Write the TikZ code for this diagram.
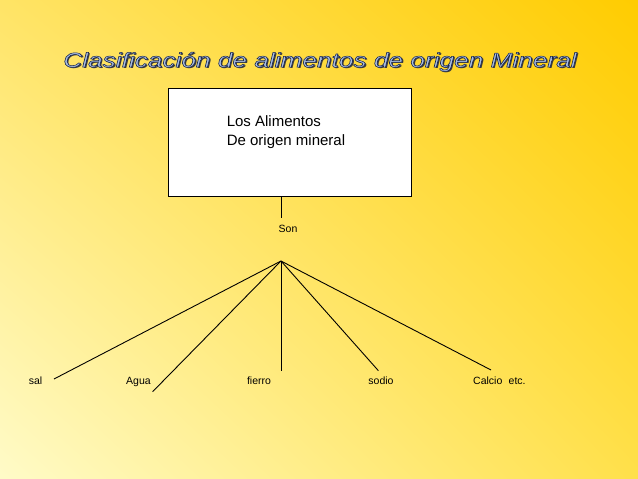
\documentclass[tikz,border=0pt]{standalone}
\usepackage{fontspec}
\setmainfont{Liberation Sans}
\usetikzlibrary{shadings}
\definecolor{bgTL}{HTML}{FFE466}
\definecolor{bgTR}{HTML}{FFCC00}
\definecolor{bgBL}{HTML}{FFFBC8}
\definecolor{bgBR}{HTML}{FFE04A}
\definecolor{titlefill}{HTML}{A9BEE2}
\definecolor{titleshadow}{HTML}{3A3A3A}
\newcommand{\titlestr}{\scalebox{1.28}[1]{\fontsize{20.5}{24}\selectfont\itshape Clasificación de alimentos de origen Mineral}}
\newcommand{\outlinedtitle}{\special{pdf:literal direct 2 Tr 0.5 w 0.10 0.15 0.31 RG}\titlestr\special{pdf:literal direct 0 Tr}}
\begin{document}
\begin{tikzpicture}[x=1pt,y=-1pt,
  lbl/.style={inner sep=0pt,anchor=base,font=\fontsize{10.5}{12}\selectfont},
  conn/.style={draw=black,line width=0.9pt}]
\useasboundingbox (0,0) rectangle (638,479);
\shade[upper left=bgTL,upper right=bgTR,lower left=bgBL,lower right=bgBR] (0,0) rectangle (638,479);
% title
\node[text=titleshadow,inner sep=0pt] (tsh) at (321.4,63.1) {\titlestr};
\node[text=titlefill,inner sep=0pt] (title) at (320,61.7) {\outlinedtitle};
% box
\node[draw=black,fill=white,line width=0.8pt,minimum width=243.3pt,minimum height=108.4pt,inner sep=0pt] (box) at (290,142.5) {};
\node[anchor=west,inner sep=0pt,align=left,font=\fontsize{15}{19}\selectfont] (boxtext) at (226.6,131.8) {Los Alimentos\\De origen mineral};
% Son
\coordinate (boxbot) at (281,196.7);
\coordinate (sontop) at (281,218);
\node[lbl] (son) at (288,232.2) {Son};
\coordinate (apex) at (281,261);
\draw[conn] (boxbot) -- (sontop);
% ends
\coordinate (esal) at (54,379);
\coordinate (eagua) at (152.6,391.7);
\coordinate (efierro) at (281,370.7);
\coordinate (esodio) at (378.4,370.7);
\coordinate (ecalcio) at (491,370);
\draw[conn] (apex) -- (esal);
\draw[conn] (apex) -- (eagua);
\draw[conn] (apex) -- (efierro);
\draw[conn] (apex) -- (esodio);
\draw[conn] (apex) -- (ecalcio);
% labels
\node[lbl] (sal) at (35.5,384) {sal};
\node[lbl] (agua) at (138.5,384) {Agua};
\node[lbl] (fierro) at (259,384) {fierro};
\node[lbl] (sodio) at (381,384) {sodio};
\node[lbl,anchor=base west] (calcio) at (473,384) {Calcio\hspace{0.6em}etc.};
\end{tikzpicture}
\end{document}
